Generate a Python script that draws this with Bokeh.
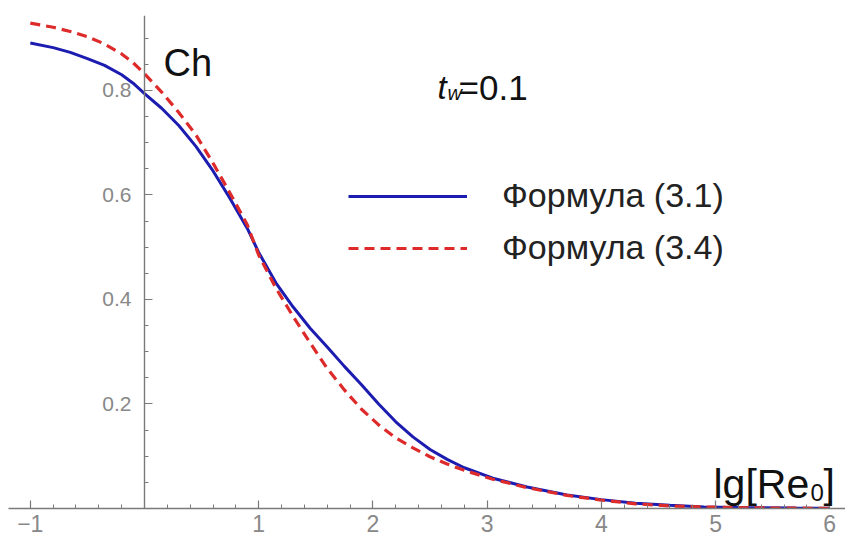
from bokeh.plotting import figure
from bokeh.models import Range1d, FixedTicker, Label, Legend, LegendItem
from bokeh.embed import file_html
from bokeh.resources import INLINE

# lg[Re0] values
lg_re = [-1.0, -0.8, -0.65, -0.5, -0.35, -0.2, -0.1, 0.0, 0.15, 0.3, 0.45, 0.6,
         0.75, 0.9, 1.0, 1.15, 1.3, 1.45, 1.6, 1.75, 1.9, 2.05, 2.2, 2.35, 2.5,
         2.65, 2.8, 3.05, 3.35, 3.7, 4.0, 4.3, 4.6, 4.9, 5.3, 5.7, 6.0]
# Формула (3.1)
ch_31 = [0.891, 0.882, 0.873, 0.861, 0.848, 0.830, 0.814, 0.794, 0.766, 0.733,
         0.693, 0.646, 0.593, 0.536, 0.490, 0.432, 0.386, 0.345, 0.309, 0.272,
         0.237, 0.200, 0.166, 0.137, 0.113, 0.094, 0.078, 0.058, 0.041, 0.026,
         0.017, 0.010, 0.006, 0.003, 0.0015, 0.0008, 0.0005]
# Формула (3.4)
ch_34 = [0.929, 0.921, 0.913, 0.903, 0.889, 0.870, 0.853, 0.832, 0.797, 0.758,
         0.715, 0.661, 0.603, 0.543, 0.485, 0.422, 0.368, 0.317, 0.268, 0.227,
         0.190, 0.160, 0.135, 0.116, 0.099, 0.085, 0.073, 0.056, 0.040, 0.025,
         0.016, 0.009, 0.005, 0.003, 0.0013, 0.0006, 0.0004]

x_tick_vals = [-1, 1, 2, 3, 4, 5, 6]
y_tick_vals = [0.2, 0.4, 0.6, 0.8]
x_minor_vals = [round(-1.2 + 0.2 * i, 2) for i in range(37)]
y_minor_vals = [round(0.05 * i, 2) for i in range(19)]

FONT = "Liberation Sans"
AXIS_GREY = "#7a7a7a"
BLUE = "#1c1cb0"
RED = "#dd2a2a"

p = figure(width=845, height=538,
           x_range=Range1d(-1.191, 6.138), y_range=Range1d(0, 0.9435),
           output_backend="svg", toolbar_location=None,
           min_border_left=8, min_border_right=0,
           min_border_top=15, min_border_bottom=30)
p.grid.visible = False
p.outline_line_color = None
p.background_fill_color = "white"

p.yaxis.fixed_location = 0

for ax in (p.xaxis[0], p.yaxis[0]):
    ax.axis_line_color = AXIS_GREY
    ax.axis_line_width = 1.4
    ax.major_tick_line_color = AXIS_GREY
    ax.minor_tick_line_color = AXIS_GREY
    ax.major_tick_line_width = 1.2
    ax.minor_tick_line_width = 1.0
    ax.major_tick_out = 0
    ax.minor_tick_out = 0
    ax.major_label_text_color = "#888888"
    ax.major_label_text_font = FONT

p.xaxis.ticker = FixedTicker(ticks=x_tick_vals, minor_ticks=x_minor_vals)
p.yaxis.ticker = FixedTicker(ticks=y_tick_vals, minor_ticks=y_minor_vals)
p.xaxis.major_tick_in = 8
p.xaxis.minor_tick_in = 4
p.yaxis.major_tick_in = 8
p.yaxis.minor_tick_in = 4
p.xaxis.major_label_text_font_size = "23px"
p.yaxis.major_label_text_font_size = "21px"
p.xaxis.major_label_standoff = 6
p.yaxis.major_label_standoff = 13

r1 = p.line(lg_re, ch_31, line_color=BLUE, line_width=3)
r2 = p.line(lg_re, ch_34, line_color=RED, line_width=3.2, line_dash="10 6")

legend = Legend(items=[LegendItem(label="Формула (3.1)", renderers=[r1]),
                       LegendItem(label="Формула (3.4)", renderers=[r2])],
                location=(340, 241), orientation="vertical",
                glyph_width=119, glyph_height=38, label_height=38,
                label_standoff=35, spacing=13, padding=0, margin=0,
                border_line_color=None, background_fill_alpha=0,
                label_text_font=FONT, label_text_font_size="34px",
                label_text_color="#222222")
p.add_layout(legend, "center")

def add_label(x, y, text, size, italic=False, color="#111111"):
    p.add_layout(Label(x=x, y=y, text=text, text_font=FONT,
                       text_font_size=size,
                       text_font_style="italic" if italic else "normal",
                       text_color=color, text_baseline="alphabetic",
                       text_align="left"))

# Ch
add_label(0.166, 0.852, "Ch", "38px")
# t_w=0.1
add_label(2.566, 0.806, "t", "33px", italic=True)
add_label(2.653, 0.796, "w", "20px", italic=True)
add_label(2.75, 0.806, "=0.1", "35px")
# lg[Re0]
add_label(4.982, 0.046, "lg[Re", "41px")
add_label(5.832, 0.031, "0", "24px")
add_label(5.946, 0.046, "]", "41px")

open("out.html", "w").write(file_html(p, INLINE))
